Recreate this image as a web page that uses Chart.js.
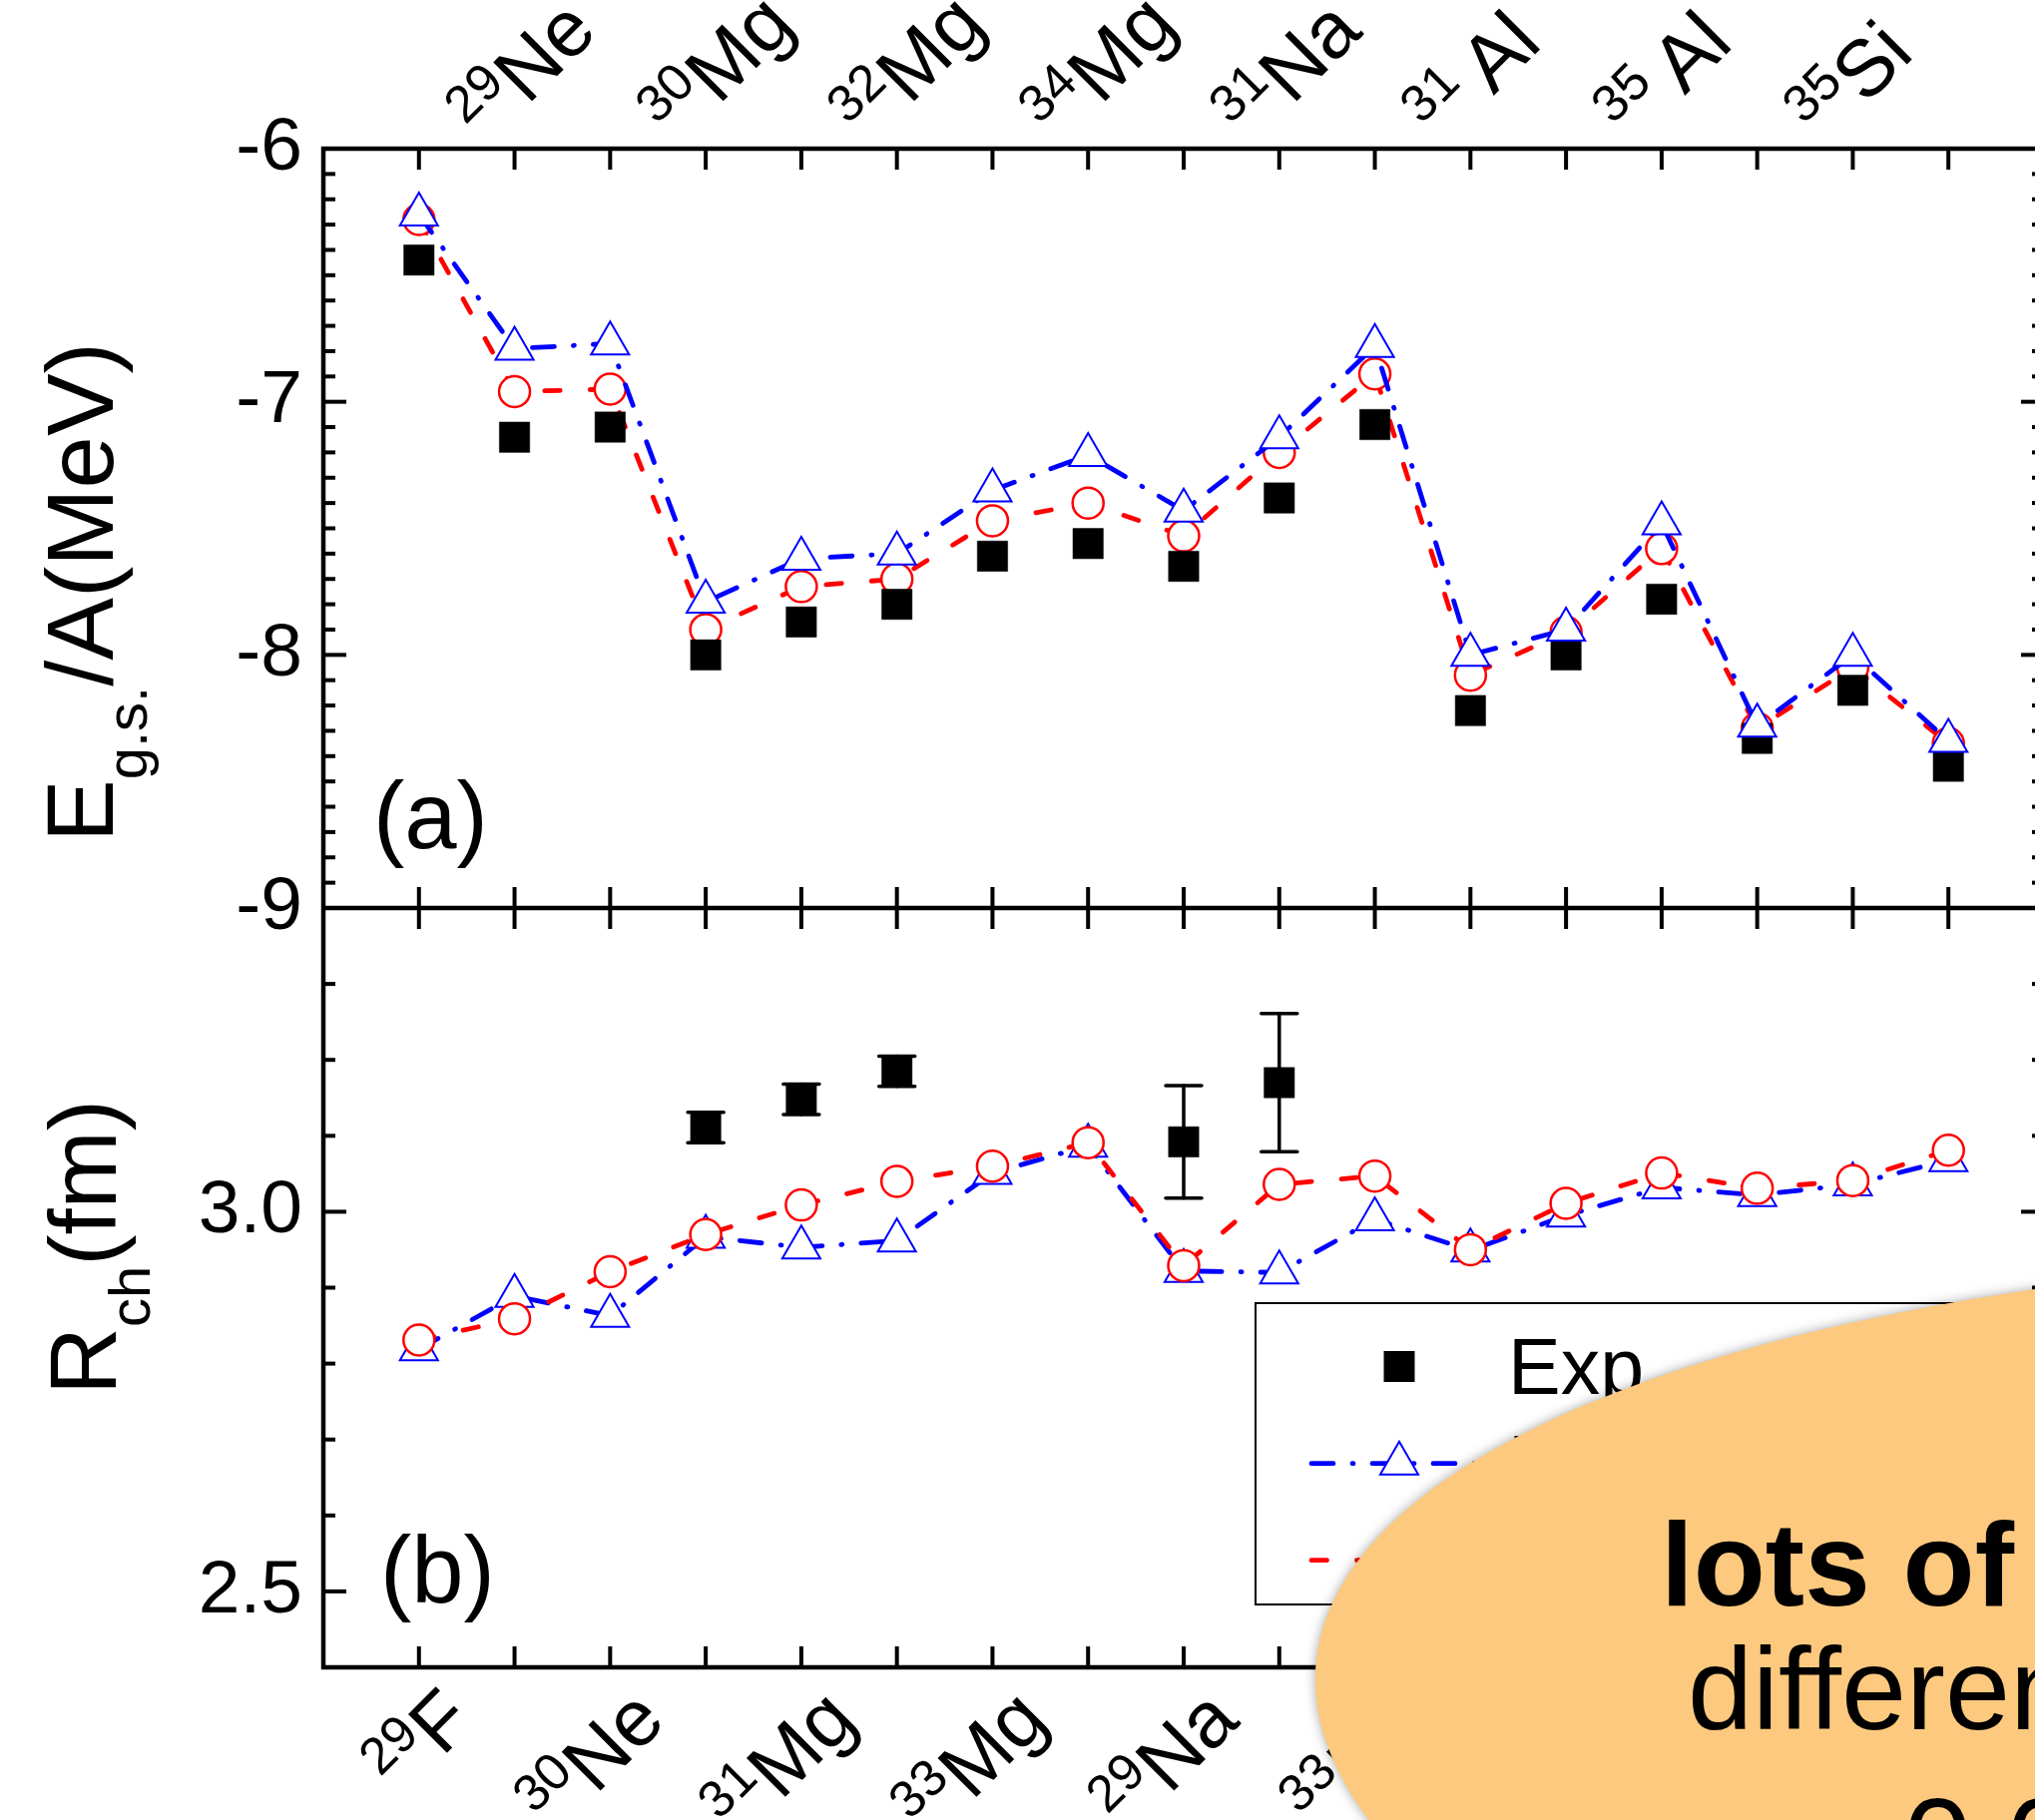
<!DOCTYPE html>
<html>
<head>
<meta charset="utf-8">
<script src="https://cdn.jsdelivr.net/npm/chart.js@4/dist/chart.umd.min.js"></script>
<style>
  html, body { margin: 0; padding: 0; background: #ffffff; overflow: hidden; width: 2039px; height: 1824px; }
  canvas { display: block; }
</style>
</head>
<body>
<canvas id="chart" width="2060" height="1824"></canvas>
<script>
// Nuclei along the x axis (mass number, element symbol)
const massNumbers = ['29', '29', '30', '30', '31', '32', '33', '34', '29', '31', '33', '31 ', '33', '35 ', '33', '35', '37'];
const elements    = ['F', 'Ne', 'Ne', 'Mg', 'Mg', 'Mg', 'Mg', 'Mg', 'Na', 'Na', 'Na', 'Al', 'Al', 'Al', 'Si', 'Si', 'Si'];

// (a) ground-state binding energy per nucleon, MeV
const energyExp  = [-6.44, -7.14, -7.10, -8.00, -7.87, -7.80, -7.61, -7.56, -7.65, -7.38, -7.09, -8.22, -8.00, -7.78, -8.33, -8.14, -8.44];
const energyCalcB = [-6.26, -6.79, -6.77, -7.79, -7.62, -7.60, -7.35, -7.21, -7.43, -7.14, -6.78, -8.00, -7.90, -7.48, -8.28, -8.00, -8.34];
const energyCalcR = [-6.28, -6.96, -6.95, -7.90, -7.73, -7.70, -7.47, -7.40, -7.53, -7.20, -6.89, -8.08, -7.91, -7.58, -8.29, -8.05, -8.35];

// (b) charge radius, fm
const radiusExp  = [null, null, null, 3.111, 3.148, 3.185, null, null, 3.092, 3.170, null, null, null, null, null, null, null];
const radiusErr  = [null, null, null, 0.020, 0.020, 0.020, null, null, 0.074, 0.091, null, null, null, null, null, null, null];
const radiusCalcB = [2.819, 2.889, 2.863, 2.967, 2.953, 2.962, 3.051, 3.087, 2.922, 2.920, 2.990, 2.949, 2.995, 3.032, 3.022, 3.036, 3.068];
const radiusCalcR = [2.831, 2.859, 2.921, 2.970, 3.009, 3.040, 3.060, 3.091, 2.929, 3.036, 3.047, 2.950, 3.011, 3.051, 3.031, 3.041, 3.081];

// Axis tick labels
const energyTicks = [-6, -7, -8, -9];
const energyTickLabels = ['-6', '-7', '-8', '-9'];
const radiusTicks = [3.0, 2.5];
const radiusTickLabels = ['3.0', '2.5'];

const seriesNames = ['Exp', 'DRHBc', 'RMF'];

const FONT = '"Liberation Sans", Arial, Helvetica, sans-serif';
const BLUE = '#0000ff', RED = '#ff0000';
const DASH_BLUE = [22, 19, 1, 19];
const DASH_RED = [15.5, 30];

const pts = arr => arr.map((v, i) => ({ x: i, y: v }));

const expStyle = {
  showLine: false, pointStyle: 'rect', pointRadius: 21.5, pointHoverRadius: 21.5,
  pointBackgroundColor: '#000', pointBorderColor: '#000', pointBorderWidth: 0.5,
  borderColor: '#000', backgroundColor: '#000'
};
const blueStyle = {
  borderColor: BLUE, borderWidth: 4.8, borderDash: DASH_BLUE, borderCapStyle: 'round',
  pointStyle: 'triangle', pointRadius: 22, pointHoverRadius: 22, pointBorderWidth: 2,
  pointBorderColor: BLUE, pointBackgroundColor: '#ffffff', tension: 0, fill: false
};
const redStyle = {
  borderColor: RED, borderWidth: 4.8, borderDash: DASH_RED, borderCapStyle: 'round',
  pointStyle: 'circle', pointRadius: 15.5, pointHoverRadius: 15.5, pointBorderWidth: 2.5,
  pointBorderColor: RED, pointBackgroundColor: '#ffffff', tension: 0, fill: false
};

function line(ctx, x1, y1, x2, y2) {
  ctx.beginPath(); ctx.moveTo(x1, y1); ctx.lineTo(x2, y2); ctx.stroke();
}

// Isotope label: small mass number followed by the element symbol, rotated 45 degrees
function isotopeLabel(ctx, ax, ay, mass, el, alignEnd) {
  ctx.save();
  ctx.translate(ax, ay);
  ctx.rotate(-Math.PI / 4);
  ctx.fillStyle = '#000';
  ctx.textBaseline = 'alphabetic';
  ctx.textAlign = 'left';
  const supFont = '52px ' + FONT, elFont = '80px ' + FONT;
  ctx.font = supFont; const wm = ctx.measureText(mass).width;
  ctx.font = elFont; const we = ctx.measureText(el).width;
  const x0 = alignEnd ? -(wm + we) : 0;
  ctx.font = supFont; ctx.fillText(mass, x0, -30);
  ctx.font = elFont; ctx.fillText(el, x0 + wm, 0);
  ctx.restore();
}

// Rotated axis title built from main text and subscript pieces
function axisTitle(ctx, x, y, parts) {
  ctx.save();
  ctx.translate(x, y);
  ctx.rotate(-Math.PI / 2);
  ctx.fillStyle = '#000';
  ctx.textAlign = 'left';
  ctx.textBaseline = 'alphabetic';
  let pos = 0;
  parts.forEach(([txt, sub]) => {
    ctx.font = (sub ? '58px ' : '94px ') + FONT;
    ctx.fillText(txt, pos, sub ? 34 : 0);
    pos += ctx.measureText(txt).width;
  });
  ctx.restore();
}

function drawMarker(ctx, style, cx, cy) {
  ctx.save();
  if (style === 'rect') {
    ctx.fillStyle = '#000';
    ctx.fillRect(cx - 15.5, cy - 15.5, 31, 31);
  } else if (style === 'triangle') {
    const r = 22;
    ctx.beginPath();
    for (let k = 0; k < 3; k++) {
      const a = k * 2 * Math.PI / 3;
      const px = cx + Math.sin(a) * r, py = cy - Math.cos(a) * r;
      if (k === 0) ctx.moveTo(px, py); else ctx.lineTo(px, py);
    }
    ctx.closePath();
    ctx.fillStyle = '#fff'; ctx.fill();
    ctx.strokeStyle = BLUE; ctx.lineWidth = 2; ctx.stroke();
  } else {
    ctx.beginPath(); ctx.arc(cx, cy, 15.5, 0, 2 * Math.PI);
    ctx.fillStyle = '#fff'; ctx.fill();
    ctx.strokeStyle = RED; ctx.lineWidth = 2.5; ctx.stroke();
  }
  ctx.restore();
}

const figurePlugin = {
  id: 'figureDecor',
  beforeDatasetsDraw(chart) {
    const ctx = chart.ctx, xs = chart.scales.x, yR = chart.scales.yR;
    // error bars of the measured radii
    ctx.save();
    ctx.strokeStyle = '#000';
    ctx.lineWidth = 3.5;
    ctx.lineCap = 'round';
    radiusExp.forEach((v, i) => {
      if (v == null || radiusErr[i] == null) return;
      const px = xs.getPixelForValue(i);
      const lo = yR.getPixelForValue(v - radiusErr[i]);
      const hi = yR.getPixelForValue(v + radiusErr[i]);
      line(ctx, px, lo, px, hi);
      line(ctx, px - 18, lo, px + 18, lo);
      line(ctx, px - 18, hi, px + 18, hi);
    });
    ctx.restore();
  },
  afterDatasetsDraw(chart) {
    const ctx = chart.ctx, xs = chart.scales.x, yE = chart.scales.yE, yR = chart.scales.yR;
    const L = xs.left, R = xs.right, T = yE.top, M = yE.bottom, B = yR.bottom;
    ctx.save();
    ctx.strokeStyle = '#000';
    ctx.lineCap = 'butt';
    // frame and panel divider
    ctx.lineWidth = 4.5;
    ctx.strokeRect(L, T, R - L, B - T);
    line(ctx, L, M, R, M);
    // category ticks
    ctx.lineWidth = 4;
    for (let i = 0; i < elements.length; i++) {
      const px = xs.getPixelForValue(i);
      line(ctx, px, T, px, T + 21);
      line(ctx, px, M - 21, px, M + 21);
      line(ctx, px, B - 21, px, B);
    }
    // value ticks, both sides, pointing inwards
    const yTicks = (scale, lo, hi, isMajor) => {
      for (let k = Math.round(lo * 10); k <= Math.round(hi * 10); k++) {
        const v = k / 10;
        const py = scale.getPixelForValue(v);
        const len = isMajor(k) ? 23 : 12;
        line(ctx, L, py, L + len, py);
        line(ctx, R - len, py, R, py);
      }
    };
    yTicks(yE, -8.9, -6.1, k => k % 10 === 0);
    yTicks(yR, 2.5, 3.3, k => k % 5 === 0);

    // tick labels
    ctx.fillStyle = '#000';
    ctx.font = '75px ' + FONT;
    ctx.textAlign = 'right';
    ctx.textBaseline = 'middle';
    energyTicks.forEach((v, i) => ctx.fillText(energyTickLabels[i], L - 21, yE.getPixelForValue(v)));
    radiusTicks.forEach((v, i) => ctx.fillText(radiusTickLabels[i], L - 21, yR.getPixelForValue(v)));
    ctx.restore();

    // isotope names: odd positions on top, even positions at the bottom
    for (let i = 0; i < elements.length; i++) {
      const px = xs.getPixelForValue(i);
      if (i % 2 === 1) isotopeLabel(ctx, px - 28, T - 2, massNumbers[i], elements[i], false);
      else isotopeLabel(ctx, px + 58, B + 56, massNumbers[i], elements[i], true);
    }

    // axis titles
    axisTitle(ctx, 113, 844, [['E', false], ['g.s.', true], ['/A(MeV)', false]]);
    axisTitle(ctx, 116, 1398, [['R', false], ['ch', true], ['(fm)', false]]);

    // panel tags
    ctx.save();
    ctx.fillStyle = '#000';
    ctx.font = '94px ' + FONT;
    ctx.textAlign = 'left';
    ctx.textBaseline = 'alphabetic';
    ctx.fillText('(a)', L + 50, M - 60);
    ctx.fillText('(b)', L + 57, yR.getPixelForValue(2.5) + 11);
    ctx.restore();
  },
  afterDraw(chart) {
    const ctx = chart.ctx;
    // legend
    ctx.save();
    ctx.strokeStyle = '#000';
    ctx.lineWidth = 2;
    ctx.strokeRect(1258, 1306, 772, 302);
    const rows = [
      { y: 1369.5, marker: 'rect', color: null, dash: null, label: seriesNames[0] },
      { y: 1466.7, marker: 'triangle', color: BLUE, dash: DASH_BLUE, label: seriesNames[1] },
      { y: 1563.7, marker: 'circle', color: RED, dash: DASH_RED, label: seriesNames[2] }
    ];
    rows.forEach(r => {
      if (r.color) {
        ctx.save();
        ctx.strokeStyle = r.color;
        ctx.lineWidth = 4.8;
        ctx.lineCap = 'round';
        ctx.setLineDash(r.dash);
        line(ctx, 1314, r.y, 1490, r.y);
        ctx.restore();
      }
      drawMarker(ctx, r.marker, 1402, r.y);
      ctx.fillStyle = '#000';
      ctx.font = '79px ' + FONT;
      ctx.textAlign = 'left';
      ctx.textBaseline = 'alphabetic';
      ctx.fillText(r.label, 1511, r.y + 27.5);
    });
    ctx.restore();

    // orange callout bubble on top of the figure
    ctx.save();
    ctx.shadowColor = 'rgba(0,0,0,0.35)';
    ctx.shadowBlur = 12;
    ctx.fillStyle = '#fcc97e';
    ctx.beginPath();
    ctx.ellipse(3012, 1816, 1700, 545, 5 * Math.PI / 180, 0, 2 * Math.PI);
    ctx.fill();
    ctx.restore();

    ctx.save();
    ctx.fillStyle = '#000';
    ctx.textAlign = 'left';
    ctx.textBaseline = 'alphabetic';
    ctx.font = 'bold 118px ' + FONT;
    ctx.fillText('lots of', 1664, 1609);
    ctx.font = '117px ' + FONT;
    ctx.fillText('differen', 1691, 1733);
    ctx.font = '124px ' + FONT;
    ctx.fillText('0.0', 1907, 1889);
    ctx.restore();
  }
};

const hiddenAxis = {
  display: true,
  grid: { display: false, drawTicks: false },
  border: { display: false },
  ticks: { display: false }
};

new Chart(document.getElementById('chart'), {
  type: 'line',
  data: {
    datasets: [
      Object.assign({ label: seriesNames[0], data: pts(energyExp), xAxisID: 'x', yAxisID: 'yE', order: 2 }, expStyle),
      Object.assign({ label: seriesNames[1], data: pts(energyCalcB), xAxisID: 'x', yAxisID: 'yE', order: 1 }, blueStyle),
      Object.assign({ label: seriesNames[2], data: pts(energyCalcR), xAxisID: 'x', yAxisID: 'yE', order: 3 }, redStyle),
      Object.assign({ label: seriesNames[0], data: pts(radiusExp), xAxisID: 'x', yAxisID: 'yR', order: 2 }, expStyle),
      Object.assign({ label: seriesNames[1], data: pts(radiusCalcB), xAxisID: 'x', yAxisID: 'yR', order: 3 }, blueStyle),
      Object.assign({ label: seriesNames[2], data: pts(radiusCalcR), xAxisID: 'x', yAxisID: 'yR', order: 1 }, redStyle)
    ]
  },
  options: {
    responsive: false,
    maintainAspectRatio: false,
    devicePixelRatio: 1,
    animation: false,
    events: [],
    layout: { autoPadding: false, padding: { left: 324, right: 12, top: 149, bottom: 153 } },
    plugins: { legend: { display: false }, tooltip: { enabled: false }, title: { display: false } },
    scales: {
      x: Object.assign({ type: 'linear', position: 'bottom', min: -1, max: 17, afterFit(s) { s.height = 0; } }, hiddenAxis),
      yE: Object.assign({ type: 'linear', position: 'left', min: -9, max: -6, stack: 'panels', stackWeight: 1, weight: 1,
                          afterFit(s) { s.width = 0; } }, hiddenAxis),
      yR: Object.assign({ type: 'linear', position: 'left', min: 2.4, max: 3.4, stack: 'panels', stackWeight: 1, weight: 0,
                          afterFit(s) { s.width = 0; } }, hiddenAxis)
    }
  },
  plugins: [figurePlugin]
});
</script>
</body>
</html>
